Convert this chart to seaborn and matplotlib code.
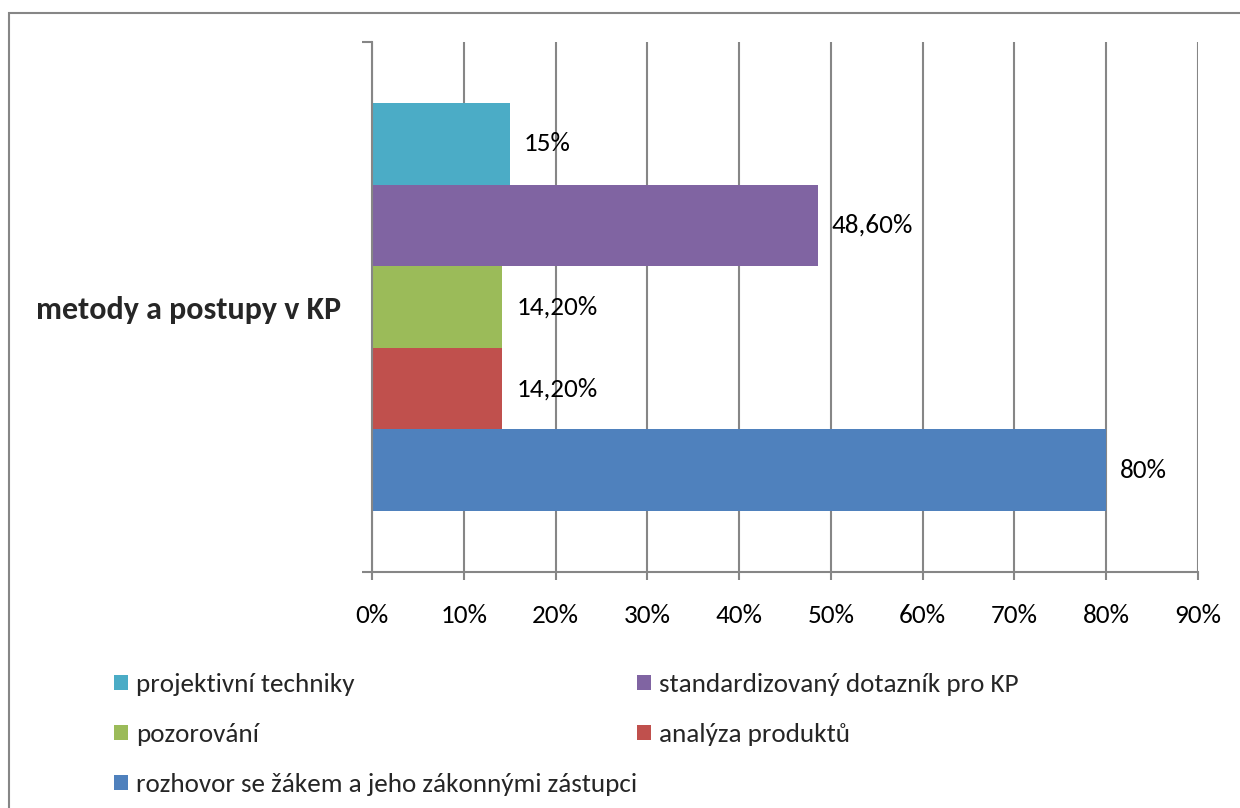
import matplotlib
matplotlib.use("Agg")
import matplotlib.pyplot as plt
import seaborn as sns
import pandas as pd
from matplotlib.patches import Patch, Rectangle
from matplotlib.ticker import FuncFormatter, FixedLocator

category = ["metody a postupy v KP"]
series = ["projektivní techniky", "standardizovaný dotazník pro KP", "pozorování",
          "analýza produktů", "rozhovor se žákem a jeho zákonnými zástupci"]
values = [15.0, 48.6, 14.2, 14.2, 80.0]
value_labels = ["15%", "48,60%", "14,20%", "14,20%", "80%"]
colors = ["#4BACC6", "#8064A2", "#9BBB59", "#C0504D", "#4F81BD"]
x_ticks = [0, 10, 20, 30, 40, 50, 60, 70, 80, 90]

sns.set_theme(style="white")
plt.rcParams['font.family'] = ['Carlito', 'Lato', 'DejaVu Sans']

FS = 19.5

df = pd.DataFrame({"cat": category * len(series), "series": series, "value": values})

fig = plt.figure(figsize=(12.4, 8.08), dpi=100)
ax = fig.add_axes([372/1240, 1 - 572/808, (1198-372)/1240, (572-42)/808])

sns.barplot(data=df, x="value", y="cat", hue="series", hue_order=series,
            palette=colors, orient="h", width=0.77, saturation=1, ax=ax,
            legend=False, linewidth=0)

ax.set_xlim(0, 90)
ax.set_ylim(0.5, -0.5)
grid_c = "#868686"
ax.xaxis.set_major_locator(FixedLocator(x_ticks))
ax.xaxis.set_major_formatter(FuncFormatter(lambda v, p: f"{int(v)}%"))
ax.grid(axis="x", color=grid_c, linewidth=1.5)
ax.grid(axis="y", visible=False)
ax.set_axisbelow(True)
for s in ["top", "right"]:
    ax.spines[s].set_visible(False)
for s in ["left", "bottom"]:
    ax.spines[s].set_color(grid_c)
    ax.spines[s].set_linewidth(1.5)
ax.tick_params(axis="x", bottom=True, length=6, width=1.5, color=grid_c,
               labelsize=FS, pad=17, labelcolor="black")
ax.tick_params(axis="y", which="major", left=False, length=0, labelsize=23, pad=22)
ax.set_yticks([-0.5, 0.5], minor=True)
ax.tick_params(axis="y", which="minor", left=True, length=7, width=1.5, color=grid_c)
for lab in ax.get_yticklabels():
    lab.set_fontweight("bold")
ax.set_xlabel("")
ax.set_ylabel("")

for cont, lab in zip(ax.containers, value_labels):
    ax.bar_label(cont, labels=[lab], padding=10, fontsize=FS, color="black")

# legend in two blocks to mimic row layout
handles = [Patch(facecolor=c, edgecolor="none") for c in colors]
leg_kw = dict(frameon=False, fontsize=FS, handlelength=0.5, handleheight=0.5,
              handletextpad=0.3, labelspacing=1.0, borderaxespad=0, borderpad=0)
leg1 = fig.legend([handles[0], handles[2], handles[4]], [series[0], series[2], series[4]],
                  loc="upper left", bbox_to_anchor=(114/1240, 1 - 673/808), **leg_kw)
leg2 = fig.legend([handles[1], handles[3]], [series[1], series[3]],
                  loc="upper left", bbox_to_anchor=(637/1240, 1 - 673/808), **leg_kw)

# chart frame
fig.patches.append(Rectangle((9/1240, -0.05), 1.2, 1 - 13/808 + 0.05,
                             transform=fig.transFigure, fill=False,
                             edgecolor="#868686", linewidth=1.5))

fig.savefig("out.png", dpi=100)
